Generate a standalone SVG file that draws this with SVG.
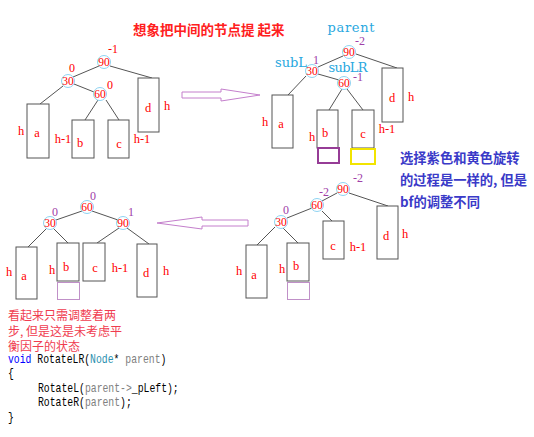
<svg xmlns="http://www.w3.org/2000/svg" width="534" height="437" viewBox="0 0 534 437">
<style>
.box{fill:#fff;stroke:#555;stroke-width:1}
.circ{fill:none;stroke:#8fd3f2;stroke-width:1}
.num{font-family:"Liberation Serif",serif;font-size:11.5px;fill:#f00;text-anchor:middle;dominant-baseline:central}
.lbl{font-family:"Liberation Serif",serif;font-size:12.5px;fill:#f00;text-anchor:middle;dominant-baseline:central}
.bfr{font-family:"Liberation Serif",serif;font-size:12px;fill:#f00;text-anchor:middle;dominant-baseline:central}
.bfp{font-family:"Liberation Serif",serif;font-size:12px;fill:#a040a8;text-anchor:middle;dominant-baseline:central}
.ptr{font-family:"DejaVu Serif",serif;font-size:13px;fill:#29a8e0;text-anchor:middle;dominant-baseline:central}
.edge{stroke:#555;stroke-width:1;fill:none}
.arrow{fill:#fff;stroke:#c47fcc;stroke-width:1}
.title{font-family:"Noto Sans CJK SC",sans-serif;font-size:13.5px;font-weight:bold;fill:#ff2020}
.note{font-family:"Noto Sans CJK SC",sans-serif;font-size:13.3px;font-weight:bold;fill:#3a3ac8}
.rnote{font-family:"Noto Sans CJK SC",sans-serif;font-size:12px;fill:#f03c50}
.code{font-family:"Liberation Mono",monospace;font-size:12px;fill:#000}
.kw{fill:#0000ff}
.ty{fill:#2b91af}
.pa{fill:#808080}
</style>
<rect width="534" height="437" fill="#fff"/>

<text class="title" x="133" y="35">想象把中间的节点提 起来</text>

<!-- Connectors -->
<g id="connectors">
  <line class="edge" x1="99" y1="66" x2="73" y2="77"/>
  <line class="edge" x1="110" y1="66" x2="152" y2="78"/>
  <line class="edge" x1="74" y1="84" x2="94" y2="92"/>
  <line class="edge" x1="63" y1="86" x2="40" y2="104"/>
  <line class="edge" x1="98" y1="100" x2="85" y2="120"/>
  <line class="edge" x1="106" y1="100" x2="119" y2="120"/>

  <line class="edge" x1="343" y1="56" x2="318" y2="67"/>
  <line class="edge" x1="356" y1="54" x2="397" y2="68"/>
  <line class="edge" x1="318" y1="74" x2="339" y2="80"/>
  <line class="edge" x1="306" y1="76" x2="288" y2="95"/>
  <line class="edge" x1="342" y1="89" x2="329" y2="110"/>
  <line class="edge" x1="347" y1="89" x2="363" y2="110"/>

  <line class="edge" x1="82" y1="211" x2="56" y2="220"/>
  <line class="edge" x1="92" y1="211" x2="118" y2="220"/>
  <line class="edge" x1="47" y1="228" x2="28" y2="247"/>
  <line class="edge" x1="53" y1="228" x2="68" y2="243"/>
  <line class="edge" x1="119" y1="228" x2="97" y2="243"/>
  <line class="edge" x1="127" y1="228" x2="149" y2="244"/>

  <line class="edge" x1="337" y1="193" x2="322" y2="201"/>
  <line class="edge" x1="349" y1="193" x2="388" y2="206"/>
  <line class="edge" x1="312" y1="208" x2="287" y2="218"/>
  <line class="edge" x1="322" y1="211" x2="332" y2="221"/>
  <line class="edge" x1="275" y1="227" x2="257" y2="245"/>
  <line class="edge" x1="283" y1="228" x2="298" y2="243"/>

  <polygon class="arrow" points="182,92 221,92 221,89 260,95 221,101 221,98 182,98"/>
  <polygon class="arrow" points="248,220 202,220 202,217 157,223 202,229 202,226 248,226"/>
</g>

<!-- Tree 1 (top-left) -->
<g id="t1-n90"><circle class="circ" cx="104" cy="62" r="6.5"/><text class="num" x="104" y="62">90</text><text class="bfr" x="113" y="49">-1</text></g>
<g id="t1-n30"><circle class="circ" cx="68" cy="81" r="6.5"/><text class="num" x="68" y="81">30</text><text class="bfr" x="72" y="68">0</text></g>
<g id="t1-n60"><circle class="circ" cx="100" cy="94" r="6.5"/><text class="num" x="100" y="94">60</text><text class="bfr" x="110" y="85">0</text></g>
<g id="t1-a"><rect class="box" x="27" y="104" width="22" height="54"/><text class="lbl" x="37" y="133">a</text><text class="lbl" x="21" y="131">h</text><text class="lbl" x="63" y="139">h-1</text></g>
<g id="t1-b"><rect class="box" x="72" y="120" width="22" height="38"/><text class="lbl" x="80" y="143">b</text></g>
<g id="t1-c"><rect class="box" x="108" y="120" width="21" height="38"/><text class="lbl" x="119" y="144">c</text><text class="lbl" x="142" y="139">h-1</text></g>
<g id="t1-d"><rect class="box" x="138" y="78" width="21" height="54"/><text class="lbl" x="148" y="108">d</text><text class="lbl" x="167" y="106">h</text></g>

<!-- Tree 2 (top-right) -->
<text class="ptr" x="351" y="27" textLength="47">parent</text>
<g id="t2-n90"><circle class="circ" cx="349" cy="52" r="6.5"/><text class="num" x="349" y="52">90</text><text class="bfp" x="360" y="41">-2</text></g>
<g id="t2-n30"><circle class="circ" cx="312" cy="71" r="6.5"/><text class="num" x="312" y="71">30</text><text class="ptr" x="291" y="62" textLength="32">subL</text><text class="bfp" x="316" y="60">1</text></g>
<g id="t2-n60"><circle class="circ" cx="344" cy="83" r="6.5"/><text class="num" x="344" y="83">60</text><text class="ptr" x="348" y="67" textLength="39">subLR</text><text class="bfp" x="358" y="77">-1</text></g>
<g id="t2-a"><rect class="box" x="272" y="95" width="21" height="53"/><text class="lbl" x="281" y="124">a</text><text class="lbl" x="265" y="122">h</text></g>
<g id="t2-b"><rect class="box" x="317" y="110" width="21" height="38"/><text class="lbl" x="325" y="133">b</text><text class="lbl" x="312" y="137">h</text><rect x="318" y="148" width="21" height="15" fill="none" stroke="#963c96" stroke-width="2"/></g>
<g id="t2-c"><rect class="box" x="352" y="110" width="22" height="38"/><text class="lbl" x="363" y="134">c</text><text class="lbl" x="387" y="129">h-1</text><rect x="351" y="149" width="24" height="15" fill="none" stroke="#f2e400" stroke-width="2"/></g>
<g id="t2-d"><rect class="box" x="382" y="68" width="21" height="54"/><text class="lbl" x="392" y="98">d</text><text class="lbl" x="411" y="97">h</text></g>

<g id="note">
  <text class="note" x="400" y="163">选择紫色和黄色旋转</text>
  <text class="note" x="400" y="185">的过程是一样的, 但是</text>
  <text class="note" x="400" y="207">bf的调整不同</text>
</g>

<!-- Tree 3 (bottom-left) -->
<g id="t3-n60"><circle class="circ" cx="87" cy="207" r="6.5"/><text class="num" x="87" y="207">60</text><text class="bfp" x="93" y="196">0</text></g>
<g id="t3-n30"><circle class="circ" cx="50" cy="223" r="6.5"/><text class="num" x="50" y="223">30</text><text class="bfp" x="55" y="212">0</text></g>
<g id="t3-n90"><circle class="circ" cx="123" cy="223" r="6.5"/><text class="num" x="123" y="223">90</text><text class="bfp" x="131" y="212">1</text></g>
<g id="t3-a"><rect class="box" x="16" y="247" width="21" height="52"/><text class="lbl" x="24" y="276">a</text><text class="lbl" x="9" y="272">h</text></g>
<g id="t3-b"><rect class="box" x="57" y="243" width="22" height="38"/><text class="lbl" x="66" y="267">b</text><text class="lbl" x="52" y="270">h</text><rect x="57.5" y="282.5" width="22" height="17" fill="none" stroke="#c090c8" stroke-width="1"/></g>
<g id="t3-c"><rect class="box" x="83" y="243" width="22" height="38"/><text class="lbl" x="95" y="268">c</text><text class="lbl" x="120" y="268">h-1</text></g>
<g id="t3-d"><rect class="box" x="137" y="244" width="20" height="53"/><text class="lbl" x="146" y="273">d</text><text class="lbl" x="166" y="271">h</text></g>

<!-- Tree 4 (bottom-right) -->
<g id="t4-n90"><circle class="circ" cx="343" cy="189" r="6.5"/><text class="num" x="343" y="189">90</text><text class="bfp" x="358" y="178">-2</text></g>
<g id="t4-n60"><circle class="circ" cx="317" cy="205" r="6.5"/><text class="num" x="317" y="205">60</text><text class="bfp" x="324" y="192">-2</text></g>
<g id="t4-n30"><circle class="circ" cx="281" cy="222" r="6.5"/><text class="num" x="281" y="222">30</text><text class="bfp" x="286" y="210">0</text></g>
<g id="t4-a"><rect class="box" x="246" y="245" width="21" height="53"/><text class="lbl" x="254" y="275">a</text><text class="lbl" x="239" y="271">h</text></g>
<g id="t4-b"><rect class="box" x="287" y="243" width="22" height="38"/><text class="lbl" x="296" y="266">b</text><text class="lbl" x="282" y="269">h</text><rect x="287.5" y="282.5" width="22" height="17" fill="none" stroke="#c090c8" stroke-width="1"/></g>
<g id="t4-c"><rect class="box" x="323" y="221" width="21" height="38"/><text class="lbl" x="333" y="246">c</text><text class="lbl" x="358" y="247">h-1</text></g>
<g id="t4-d"><rect class="box" x="377" y="206" width="21" height="53"/><text class="lbl" x="386" y="236">d</text><text class="lbl" x="405" y="234">h</text></g>

<!-- Bottom text -->
<g id="comment">
  <text class="rnote" x="8" y="320">看起来只需调整着两</text>
  <text class="rnote" x="8" y="336">步, 但是这是未考虑平</text>
  <text class="rnote" x="8" y="351">衡因子的状态</text>
</g>
<g id="code" transform="translate(8,0) scale(0.815,1)">
  <text class="code" x="0" y="363"><tspan class="kw">void</tspan> RotateLR(<tspan class="ty">Node</tspan>* <tspan class="pa">parent</tspan>)</text>
  <text class="code" x="0" y="377">{</text>
  <text class="code" x="36.8" y="392">RotateL(<tspan class="pa">parent-&gt;</tspan>_pLeft);</text>
  <text class="code" x="36.8" y="406">RotateR(<tspan class="pa">parent</tspan>);</text>
  <text class="code" x="0" y="421">}</text>
</g>
</svg>
